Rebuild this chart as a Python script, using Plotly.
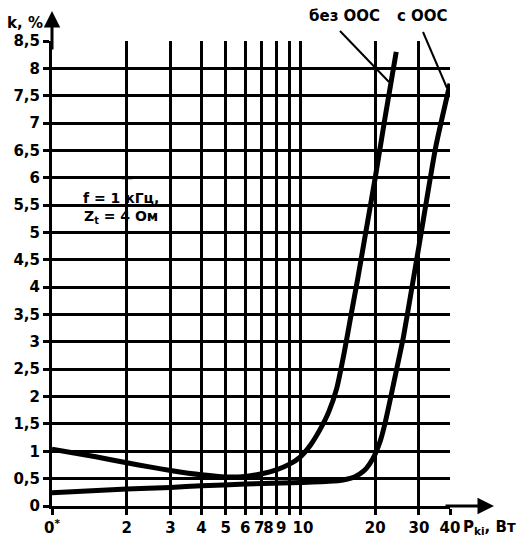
import math
import plotly.graph_objects as go

# ---- data ----
x_tick_vals = [1, 2, 3, 4, 5, 6, 7, 8, 9, 10, 20, 30, 40]
x_tick_text = ["0<sup>*</sup>", "2", "3", "4", "5", "6", "7&nbsp;", "8&nbsp;&nbsp;&nbsp;",
               "9&nbsp;&nbsp;&nbsp;", "&nbsp;10", "20", "30", "40"]
y_tick_vals = [i * 0.5 for i in range(18)]
y_tick_text = ["0", "0,5", "1", "1,5", "2", "2,5", "3", "3,5", "4", "4,5",
               "5", "5,5", "6", "6,5", "7", "7,5", "8", "8,5"]

bez_x = [1, 1.5, 2, 2.5, 3, 4, 5, 6, 7, 8, 9, 10, 11, 12, 13, 14, 15, 16, 17, 18, 20, 22, 24.3]
bez_y = [1.04, 0.9, 0.79, 0.71, 0.65, 0.57, 0.53, 0.54, 0.59, 0.66, 0.76, 0.9, 1.12, 1.4,
         1.72, 2.15, 2.8, 3.5, 4.15, 4.8, 6.0, 7.15, 8.3]

s_x = [1, 2, 3, 4, 6, 10, 13, 15, 16.5, 18, 19, 20, 21, 22, 23, 24, 26, 28, 30, 35, 40]
s_y = [0.24, 0.31, 0.34, 0.37, 0.40, 0.43, 0.45, 0.48, 0.53, 0.64, 0.77, 0.95, 1.2, 1.55,
       1.95, 2.35, 3.1, 3.95, 4.75, 6.55, 7.72]

FONT = "DejaVu Sans, Arial, sans-serif"

fig = go.Figure()
fig.add_trace(go.Scatter(x=bez_x, y=bez_y, mode="lines",
                         line=dict(color="black", width=5, shape="spline", smoothing=0.6),
                         showlegend=False, hoverinfo="skip"))
fig.add_trace(go.Scatter(x=s_x, y=s_y, mode="lines",
                         line=dict(color="black", width=5, shape="spline", smoothing=0.5),
                         showlegend=False, hoverinfo="skip"))

axis_common = dict(showgrid=True, gridcolor="black", gridwidth=3,
                   showline=True, linecolor="black", linewidth=3,
                   ticks="outside", ticklen=6, tickwidth=3, tickcolor="black",
                   zeroline=False, tickangle=0, automargin=False,
                   tickfont=dict(family=FONT, size=15, color="black"))

fig.update_xaxes(type="log", range=[0, math.log10(40)], tickmode="array",
                 tickvals=x_tick_vals, ticktext=["<b>%s</b>" % t for t in x_tick_text],
                 **axis_common)
fig.update_yaxes(range=[0, 8.5], tickmode="array", tickvals=y_tick_vals,
                 ticktext=["<b>%s</b>" % t for t in y_tick_text], **axis_common)


def px_x(p):
    return (p - 52) / 398


def px_y(p):
    return (506 - p) / 465


shapes = []
# gap in the vertical grid line at x=2 (behind the note)
shapes.append(dict(type="rect", layer="between", xref="paper", yref="y",
                   x0=0.180, x1=0.197, y0=4.97, y1=6.09,
                   fillcolor="white", line=dict(width=0)))
# gap in the 5.5 grid line
shapes.append(dict(type="rect", layer="between", xref="paper", yref="y",
                   x0=px_x(77), x1=px_x(160), y0=5.42, y1=5.58,
                   fillcolor="white", line=dict(width=0)))
# restore crossings of lines 6 and 5
for yy in (5, 6):
    shapes.append(dict(type="line", layer="between", xref="paper", yref="y",
                       x0=0.175, x1=0.202, y0=yy, y1=yy,
                       line=dict(color="black", width=3)))
# leader lines for the curve labels
shapes.append(dict(type="line", xref="paper", yref="paper",
                   x0=px_x(340), y0=px_y(31), x1=px_x(389), y1=px_y(82),
                   line=dict(color="black", width=2)))
shapes.append(dict(type="line", xref="paper", yref="paper",
                   x0=px_x(423), y0=px_y(32), x1=px_x(447), y1=px_y(88),
                   line=dict(color="black", width=2)))
fig.update_layout(shapes=shapes)


def label(px, py, text, size=15):
    return dict(xref="paper", yref="paper", x=px_x(px), y=px_y(py), text=text,
                xanchor="center", yanchor="middle", showarrow=False, align="center",
                font=dict(family=FONT, size=size, color="black"))


annos = [
    # axis arrows
    dict(xref="paper", yref="paper", x=px_x(494), y=0, ax=-50, ay=0, text="",
         showarrow=True, arrowhead=2, arrowwidth=3, arrowsize=1.1, arrowcolor="black"),
    dict(xref="paper", yref="paper", x=0, y=px_y(11), ax=0, ay=40, text="",
         showarrow=True, arrowhead=2, arrowwidth=3, arrowsize=1.1, arrowcolor="black"),
    label(25, 23, "<b>k, %</b>"),
    label(489, 527, "<b>P<sub>ki</sub>, Вт</b>"),
    label(344, 16, "<b>без ООС</b>", 15),
    label(422, 16, "<b>с ООС</b>", 15),
    label(121, 208, "<b>f = 1 кГц,</b><br><b>Z<sub>t</sub> = 4 Ом</b>", 14),
]
fig.update_layout(annotations=annos)

fig.update_layout(width=520, height=536,
                  margin=dict(l=52, r=70, t=41, b=30, pad=0),
                  plot_bgcolor="white", paper_bgcolor="white",
                  showlegend=False)

fig.write_html("out.html")
